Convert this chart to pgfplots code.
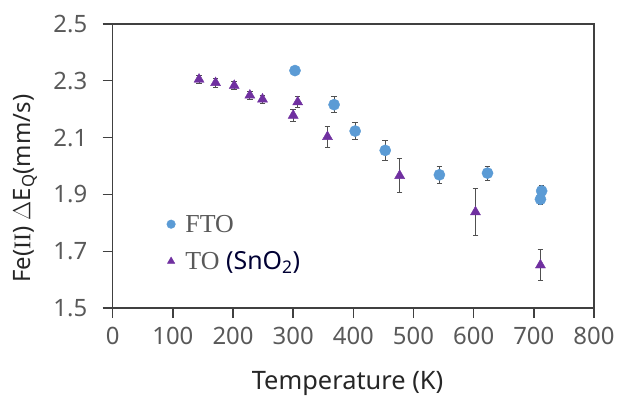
\documentclass[border=0pt]{standalone}
\usepackage{pgfplots}
\pgfplotsset{compat=1.18}
\usepackage{fontspec}
\setmainfont{Noto Sans}
\newfontfamily\serif{Liberation Serif}
\definecolor{ftoblue}{HTML}{5B9BD5}
\definecolor{topurple}{HTML}{7030A0}
\definecolor{axgray}{HTML}{404040}
\definecolor{tickgray}{HTML}{595959}
\definecolor{errgray}{HTML}{505050}
\begin{document}
\begin{tikzpicture}
\useasboundingbox (-112.7bp,-90bp) rectangle (510.3bp,308bp);
\begin{axis}[
  scale only axis,
  width=481.3bp, height=284bp,
  xmin=0, xmax=800, ymin=1.5, ymax=2.5,
  xtick={0,100,...,800},
  ytick={1.5,1.7,1.9,2.1,2.3,2.5},
  yticklabels={1.5,1.7,1.9,2.1,2.3,2.5},
  xtick pos=bottom, ytick pos=left,
  tick align=outside,
  major tick length=10bp,
  axis line style={color=axgray, line width=1.4bp},
  every tick/.style={color=axgray, line width=1.4bp},
  /pgf/number format/assume math mode=true,
  ticklabel style={font=\fontsize{24}{24}\selectfont, color=tickgray},
  xticklabel style={yshift=-6bp},
  yticklabel style={xshift=-12bp},
  xlabel={Temperature (K)},
  ylabel={Fe({\serif II}) $\Delta$E\textsubscript{Q}(mm/s)},
  xlabel style={font=\fontsize{25.5}{25.5}\selectfont, color=black!85, at={(axis description cs:0.488,-0.266)}, anchor=center},
  ylabel style={font=\fontsize{24}{24}\selectfont, color=black!85, at={(axis description cs:-0.182,0.42)}, anchor=center},
  legend style={at={(axis description cs:0.112,0.229)}, anchor=west, draw=none, fill=none,
    font=\fontsize{26}{26}\selectfont, row sep=14bp, inner sep=0pt,
    /tikz/every odd column/.append style={column sep=8bp}},
  legend cell align=left,
  legend image code/.code={\draw[mark repeat=2,mark phase=2,#1,mark size=4.3bp] plot coordinates {(0bp,0bp)(5bp,0bp)(10bp,0bp)};},
]
\addplot[only marks, mark=*, mark size=5.6bp, color=ftoblue, mark options={fill=ftoblue, draw=ftoblue},
  error bars/.cd, y dir=both, y explicit,
  error bar style={color=errgray, line width=0.9bp},
  error mark options={rotate=90, mark size=2.8bp, color=errgray, line width=0.9bp}]
  table[x=x, y=y, y error=e] {
x y e
303 2.336 0.006
368 2.216 0.028
403 2.123 0.031
453 2.055 0.034
543 1.969 0.029
623 1.975 0.025
713 1.912 0.020
711 1.883 0.018
};
\addlegendentry{\fontsize{26}{26}\selectfont{\serif\color{tickgray}FTO}}
\addplot[only marks, mark=triangle*, mark size=5.8bp, color=topurple, mark options={fill=topurple, draw=topurple},
  error bars/.cd, y dir=both, y explicit,
  error bar style={color=errgray, line width=0.9bp},
  error mark options={rotate=90, mark size=2.8bp, color=errgray, line width=0.9bp}]
  table[x=x, y=y, y error=e] {
x y e
143.5 2.305 0.015
171 2.293 0.015
202 2.283 0.015
228 2.249 0.015
249 2.235 0.015
300 2.178 0.020
307.5 2.225 0.020
357 2.103 0.037
477 1.966 0.060
603 1.838 0.082
711 1.651 0.055
};
\addlegendentry{\fontsize{26}{26}\selectfont{\serif\color{tickgray}TO} {\fontsize{25}{25}\selectfont\color{black!80!blue}(SnO\textsubscript{2})}}
\end{axis}
\end{tikzpicture}
\end{document}
